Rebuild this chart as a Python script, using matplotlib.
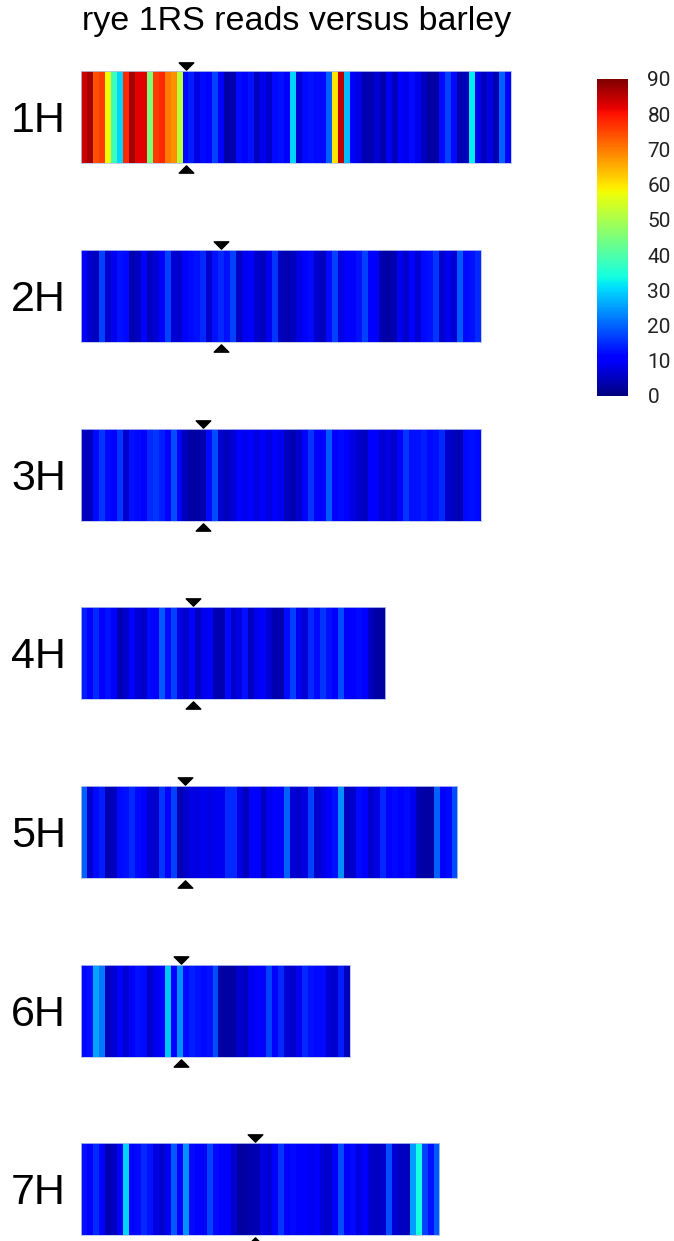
import numpy as np
import matplotlib
matplotlib.use("Agg")
import matplotlib.pyplot as plt
from matplotlib.colors import Normalize
from matplotlib.path import Path
import matplotlib.cm as cm

chromosomes = ["1H", "2H", "3H", "4H", "5H", "6H", "7H"]

h1 = [84, 87, 74, 76, 58, 38, 30, 78, 87, 82, 82, 45, 76, 78, 70, 68, 52, 12, 14, 8,
      12, 10, 17, 10, 3, 4, 12, 10, 13, 5, 9, 6, 12, 13, 10, 30, 7, 12, 13, 12,
      12, 20, 60, 85, 28, 10, 8, 4, 4, 7, 4, 9, 5, 10, 9, 12, 9, 5, 3, 3,
      12, 17, 12, 4, 5, 32, 9, 5, 8, 4, 20, 10]
h2 = [10, 6, 5, 17, 6, 9, 13, 12, 4, 5, 10, 5, 7, 10, 17, 7, 6, 11, 12, 13,
      15, 6, 13, 15, 13, 17, 5, 9, 11, 6, 5, 9, 16, 5, 4, 5, 8, 11, 12, 6,
      5, 12, 17, 8, 10, 11, 13, 17, 11, 10, 4, 3, 4, 9, 6, 10, 7, 12, 13, 16,
      6, 9, 7, 19, 12, 13, 15]
h3 = [5, 5, 12, 16, 12, 11, 16, 6, 13, 12, 11, 15, 16, 14, 10, 18, 11, 5, 3, 3,
      4, 12, 18, 6, 5, 7, 10, 9, 11, 8, 10, 8, 11, 9, 5, 4, 6, 10, 16, 11,
      10, 19, 10, 12, 11, 8, 6, 5, 10, 11, 7, 8, 6, 10, 16, 13, 13, 14, 12, 13,
      15, 6, 5, 4, 12, 13, 12]
h4 = [14, 11, 15, 10, 13, 10, 4, 6, 11, 7, 6, 12, 11, 19, 12, 17, 8, 6, 11, 5,
      9, 11, 4, 4, 12, 6, 8, 13, 5, 9, 11, 7, 4, 4, 12, 17, 9, 7, 15, 12,
      16, 13, 11, 18, 10, 10, 12, 11, 5, 3, 3]
h5 = [20, 6, 12, 14, 4, 5, 12, 13, 15, 12, 11, 7, 6, 16, 11, 17, 4, 6, 8, 8,
      9, 8, 9, 9, 15, 15, 8, 5, 10, 11, 5, 9, 11, 10, 20, 7, 6, 8, 17, 6,
      8, 10, 13, 24, 5, 6, 12, 11, 6, 8, 15, 11, 12, 10, 12, 9, 4, 3, 3, 20,
      10, 12, 18]
h6 = [12, 13, 26, 22, 5, 7, 10, 7, 11, 13, 12, 6, 9, 10, 29, 10, 24, 12, 14, 13,
      12, 13, 18, 3, 3, 3, 6, 5, 9, 11, 10, 17, 11, 15, 7, 6, 9, 15, 13, 12,
      12, 7, 6, 14, 5]
h7 = [13, 11, 15, 10, 4, 5, 11, 30, 11, 12, 15, 13, 8, 6, 9, 19, 10, 24, 12, 10,
      11, 17, 12, 10, 11, 6, 3, 3, 4, 4, 8, 7, 10, 16, 11, 12, 10, 11, 9, 11,
      7, 6, 11, 18, 11, 12, 8, 10, 6, 5, 6, 18, 7, 5, 5, 25, 34, 17, 13, 19]
coverage = [h1, h2, h3, h4, h5, h6, h7]

# centromere position in bin units
centromeres = [17.6, 23.5, 20.4, 18.8, 17.4, 16.75, 29.1]

cbar_ticks = [0, 10, 20, 30, 40, 50, 60, 70, 80, 90]
title = "rye 1RS reads versus barley"

W, H = 674, 1241
fig = plt.figure(figsize=(W / 100, H / 100), dpi=100)
fig.patch.set_facecolor("white")

norm = Normalize(vmin=0, vmax=90)
cmap = plt.get_cmap("jet")

px_per_bin = 5.97
left = 81
tops = [71, 250, 429, 607, 786, 965, 1143]
strip_h = 92

down_tri = Path([(-1, 0.5), (1, 0.5), (0, -0.5), (-1, 0.5)],
                [Path.MOVETO, Path.LINETO, Path.LINETO, Path.CLOSEPOLY])
up_tri = Path([(-1, -0.5), (1, -0.5), (0, 0.5), (-1, -0.5)],
              [Path.MOVETO, Path.LINETO, Path.LINETO, Path.CLOSEPOLY])


def fax(x, y, w, h):
    return fig.add_axes([x / W, 1 - (y + h) / H, w / W, h / H])


for name, vals, cen, top in zip(chromosomes, coverage, centromeres, tops):
    n = len(vals)
    ax = fax(left, top, n * px_per_bin, strip_h)
    ax.imshow(np.array(vals, dtype=float)[None, :], cmap=cmap, norm=norm,
              aspect="auto", interpolation="nearest",
              extent=[0, n, 0, 1])
    ax.set_xlim(0, n)
    ax.set_ylim(0, 1)
    ax.set_xticks([])
    ax.set_yticks([])
    for s in ax.spines.values():
        s.set_color("#b8c4e8")
        s.set_linewidth(0.6)
    tr = ax.get_xaxis_transform()
    off = 5.5 / strip_h
    ax.plot([cen], [1 + off], marker=down_tri, color="black", markersize=10.5,
            linestyle="none", clip_on=False, transform=tr)
    ax.plot([cen], [-off], marker=up_tri, color="black", markersize=10.5,
            linestyle="none", clip_on=False, transform=tr)
    fig.text(66 / W, 1 - (top + strip_h / 2 + 4) / H, name, ha="right",
             va="center", fontsize=31, family="Liberation Sans")

fig.text(297 / W, 1 - 30 / H, title, ha="center", va="baseline",
         fontsize=24.5, family="Liberation Sans")

cax = fax(597, 79, 31, 317)
cb = fig.colorbar(cm.ScalarMappable(norm=norm, cmap=cmap), cax=cax,
                  ticks=cbar_ticks)
cb.outline.set_visible(False)
cax.tick_params(length=0, pad=14, labelsize=15)
for lab in cax.get_yticklabels():
    lab.set_family("Roboto")
    lab.set_color("#222222")

fig.savefig("out.png", dpi=100, facecolor="white")
